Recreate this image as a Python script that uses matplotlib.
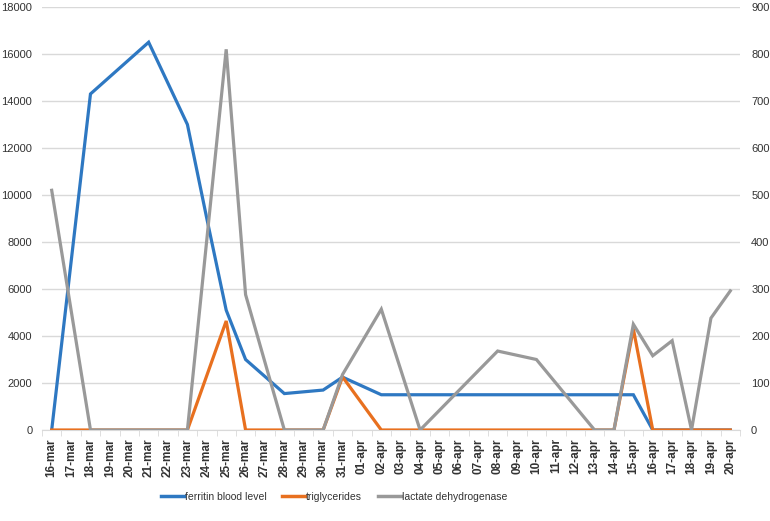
import numpy as np
import matplotlib
matplotlib.use("Agg")
import matplotlib.pyplot as plt
from matplotlib.lines import Line2D

nan = np.nan

dates = (["%02d-mar" % d for d in range(16, 32)] +
         ["%02d-apr" % d for d in range(1, 21)])

ferritin = [0, nan, 14300, nan, nan, 16500, nan, 13000, 9000, 5100, 3000, nan,
            1550, nan, 1700, 2250,
            nan, 1500, 1500, 1500, 1500, 1500, 1500, 1500, 1500, 1500, 1500,
            1500, 1500, 1500, 1500, 0, 0, 0, 0, 0]

triglycerides = [0, 0, 0, 0, 0, 0, 0, 0, nan, 232, 0, 0, 0, 0, 0, 113,
                 nan, 0, 0, 0, 0, 0, 0, 0, 0, 0, 0, 0, 0, 0, 215, 0, 0, 0, 0, 0]

ldh = [510, nan, 0, 0, 0, 0, 0, 0, nan, 810, 288, nan, 0, 0, 0, 118,
       nan, 257, nan, 0, nan, nan, nan, 168, nan, 150, nan, nan, 0, 0,
       225, 158, 190, 0, 238, 296]

left_ticks = list(range(0, 18001, 2000))
right_ticks = list(range(0, 901, 100))

c_blue = "#2e78c2"
c_orange = "#e8701f"
c_gray = "#999999"
grid_c = "#d9d9d9"
text_c = "#333333"

plt.rcParams['font.family'] = ['Liberation Sans', 'DejaVu Sans']

fig = plt.figure(figsize=(7.7, 5.21), dpi=100)
ax = fig.add_axes([42/770, 1-430/521, 698/770, 423/521])
ax2 = ax.twinx()

x = np.arange(len(dates))

def plot_series(a, vals, color, z):
    v = np.array(vals, dtype=float)
    m = ~np.isnan(v)
    a.plot(x[m], v[m], color=color, lw=2.3, solid_joinstyle='miter', zorder=z)

plot_series(ax, ferritin, c_blue, 3)
plot_series(ax2, triglycerides, c_orange, 3)
plot_series(ax2, ldh, c_gray, 4)

ax.set_xlim(-0.5, len(dates) - 0.5)
ax.set_ylim(0, 18000)
ax2.set_ylim(0, 900)
ax.set_yticks(left_ticks)
ax.set_yticklabels([str(t) for t in left_ticks])
ax2.set_yticks(right_ticks)
ax2.set_yticklabels([str(t) for t in right_ticks])

ax.grid(axis='y', color=grid_c, lw=1.0, zorder=0)
ax.set_axisbelow(True)

for a in (ax, ax2):
    for s in a.spines.values():
        s.set_visible(False)
ax.spines['bottom'].set_visible(True)
ax.spines['bottom'].set_color(grid_c)

ax.set_xticks(x)
ax.set_xticklabels(dates, rotation=90, fontsize=8.5, fontweight='bold', color=text_c)
ax.tick_params(axis='x', which='major', length=0, pad=6)
ax.set_xticks(np.arange(-0.5, len(dates), 1), minor=True)
ax.tick_params(axis='x', which='minor', length=4, color=grid_c, direction='out')

ax.tick_params(axis='y', length=0, labelsize=8, labelcolor=text_c, pad=7)
ax2.tick_params(axis='y', length=0, labelsize=8, labelcolor=text_c, pad=8)

handles = [Line2D([], [], color=c_blue, lw=2.5),
           Line2D([], [], color=c_orange, lw=2.5),
           Line2D([], [], color=c_gray, lw=2.5)]
labels = ["ferritin blood level", "triglycerides", "lactate dehydrogenase"]
fig.legend(handles, labels, loc='center', bbox_to_anchor=(334/770, 1-497/521),
           ncol=3, frameon=False, fontsize=7.5, labelcolor=text_c,
           handlelength=2.2, handletextpad=0.1, columnspacing=1.5)

fig.savefig("out.png", dpi=100)
